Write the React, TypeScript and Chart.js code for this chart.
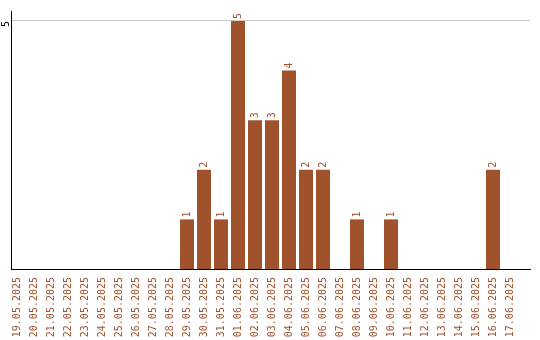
import React, { useEffect, useRef } from "react";
import { Chart, registerables } from "chart.js";

Chart.register(...registerables);

const categories = [
  "19.05.2025", "20.05.2025", "21.05.2025", "22.05.2025", "23.05.2025",
  "24.05.2025", "25.05.2025", "26.05.2025", "27.05.2025", "28.05.2025",
  "29.05.2025", "30.05.2025", "31.05.2025", "01.06.2025", "02.06.2025",
  "03.06.2025", "04.06.2025", "05.06.2025", "06.06.2025", "07.06.2025",
  "08.06.2025", "09.06.2025", "10.06.2025", "11.06.2025", "12.06.2025",
  "13.06.2025", "14.06.2025", "15.06.2025", "16.06.2025", "17.06.2025",
];
const values = [0, 0, 0, 0, 0, 0, 0, 0, 0, 0, 1, 2, 1, 5, 3, 3, 4, 2, 2, 0, 1, 0, 1, 0, 0, 0, 0, 0, 2, 0];
const yTicks = [5];

const BROWN = "#A0522D";
const FONT = "'DejaVu Sans Mono', monospace";

const valueLabels = {
  id: "valueLabels",
  afterDatasetsDraw(chart: any) {
    const ctx = chart.ctx;
    const meta = chart.getDatasetMeta(0);
    ctx.save();
    ctx.fillStyle = BROWN;
    ctx.font = `10px ${FONT}`;
    ctx.textAlign = "left";
    ctx.textBaseline = "middle";
    meta.data.forEach((bar: any, i: number) => {
      const v = values[i];
      if (!v) return;
      ctx.save();
      ctx.translate(bar.x, bar.y - 2);
      ctx.rotate(-Math.PI / 2);
      ctx.fillText(String(v), 0, 0);
      ctx.restore();
    });
    ctx.restore();
  },
};

export default function App() {
  const ref = useRef<HTMLCanvasElement>(null);
  useEffect(() => {
    const chart = new Chart(ref.current!, {
      type: "bar",
      data: {
        datasets: [
          {
            data: values.map((v, i) => ({ x: i, y: v })),
            backgroundColor: BROWN,
            borderWidth: 0,
            barPercentage: 14 / 17,
            categoryPercentage: 1,
          },
        ],
      },
      options: {
        animation: false,
        responsive: false,
        maintainAspectRatio: false,
        layout: { padding: { top: 10, right: 10, left: 0, bottom: 0 } },
        plugins: { legend: { display: false }, tooltip: { enabled: false } },
        scales: {
          x: {
            type: "linear",
            offset: false,
            min: -6 / 17,
            max: -6 / 17 + 519 / 17,
            afterBuildTicks: (s: any) => {
              s.ticks = categories.map((_, i) => ({ value: i }));
            },
            afterFit: (s: any) => {
              s.height = 71;
            },
            grid: { display: true, offset: false, color: "rgba(0,0,0,0)", drawTicks: false },
            border: { display: true, color: "#000", width: 1 },
            ticks: {
              autoSkip: false,
              minRotation: 90,
              maxRotation: 90,
              padding: 8,
              color: BROWN,
              font: { family: FONT, size: 10 },
              callback: (v: any) => categories[v] ?? "",
            },
          },
          y: {
            min: 0,
            max: 5.2,
            afterBuildTicks: (s: any) => {
              s.ticks = yTicks.map((v) => ({ value: v }));
            },
            afterFit: (s: any) => {
              s.width = 11;
            },
            grid: { color: "#cccccc", drawTicks: false },
            border: { display: true, color: "#000", width: 1 },
            ticks: {
              minRotation: 90,
              maxRotation: 90,
              padding: 5,
              color: "#000",
              font: { family: FONT, size: 10 },
            },
          },
        },
      },
      plugins: [valueLabels],
    });
    return () => chart.destroy();
  }, []);
  return (
    <div style={{ position: "fixed", left: 0, top: 0, width: 540, height: 340 }}>
      <canvas ref={ref} width={540} height={340} style={{ width: 540, height: 340 }} />
    </div>
  );
}
